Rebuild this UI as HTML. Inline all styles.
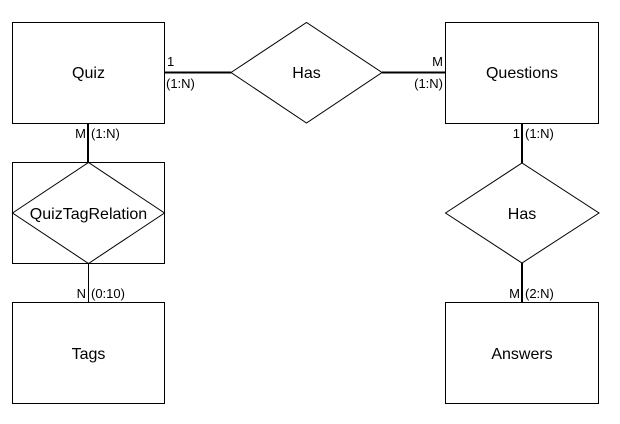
<!DOCTYPE html>
<html><head><style>body{margin:0;background:#fff}</style></head><body>
<svg width="620" height="419" xmlns="http://www.w3.org/2000/svg" font-family="Liberation Sans, Arial, sans-serif">
<rect width="620" height="419" fill="#fff"/>
<g fill="none" stroke="#000" stroke-width="1">
<rect x="12.5" y="22.5" width="152" height="101"/>
<rect x="445.5" y="22.5" width="153" height="101"/>
<rect x="12.5" y="162.5" width="152" height="101"/>
<rect x="12.5" y="302.5" width="152" height="101"/>
<rect x="445.5" y="302.5" width="153" height="101"/>
<polygon points="231,72.5 306.5,22.5 382,72.5 306.5,123"/>
<polygon points="12.5,213 88.5,162.5 164.5,213 88.5,263.5"/>
<polygon points="445.5,213 522,163 599,213 522,263"/>
<line x1="88.5" y1="263.5" x2="88.5" y2="302.5"/>
</g>
<g stroke="#000" stroke-width="2">
<line x1="165" y1="72.5" x2="231" y2="72.5"/>
<line x1="382" y1="72.5" x2="445" y2="72.5"/>
<line x1="88" y1="123" x2="88" y2="163"/>
<line x1="522" y1="123" x2="522" y2="163"/>
<line x1="522" y1="263" x2="522" y2="302"/>
</g>
<g font-size="16" text-anchor="middle" fill="#000">
<text x="88.5" y="78">Quiz</text>
<text x="306.5" y="78">Has</text>
<text x="522" y="78">Questions</text>
<text x="88.5" y="219">QuizTagRelation</text>
<text x="522" y="219">Has</text>
<text x="88.5" y="359">Tags</text>
<text x="522" y="359">Answers</text>
</g>
<g font-size="13" fill="#000">
<text x="167" y="66">1</text>
<text x="166" y="88">(1:N)</text>
<text x="443" y="66" text-anchor="end">M</text>
<text x="443" y="88" text-anchor="end">(1:N)</text>
<text x="86" y="138" text-anchor="end">M</text>
<text x="91" y="138">(1:N)</text>
<text x="520" y="138" text-anchor="end">1</text>
<text x="525" y="138">(1:N)</text>
<text x="86" y="298" text-anchor="end">N</text>
<text x="91" y="298">(0:10)</text>
<text x="520" y="298" text-anchor="end">M</text>
<text x="525" y="298">(2:N)</text>
</g>
</svg>
</body></html>
